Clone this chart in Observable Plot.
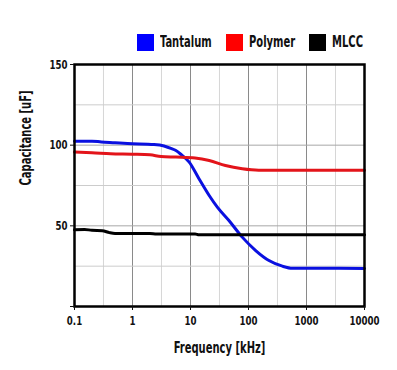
<!DOCTYPE html>
<html>
<head>
<meta charset="utf-8">
<script src="https://cdn.jsdelivr.net/npm/d3@7"></script>
<script src="https://cdn.jsdelivr.net/npm/@observablehq/plot@0.6"></script>
<style>
  html, body { margin: 0; padding: 0; background: #fff; }
  #wrap { position: relative; width: 397px; height: 370px; font-family: 'DejaVu Sans Condensed', 'DejaVu Sans', sans-serif; font-weight: bold; }
  #legend { position: absolute; left: 137px; top: 33px; display: flex; align-items: center; font-size: 15px; color: #111; white-space: nowrap; }
  #legend .item { display: flex; align-items: center; margin-right: 14px; }
  #legend .sw { width: 17px; height: 17px; margin-right: 6px; }
  #legend .lab { display: inline-block; transform-origin: left center; }
  #chart { position: absolute; left: 0; top: 0; }
</style>
</head>
<body>
<div id="wrap">
  <div id="chart"></div>
  <div id="legend"></div>
</div>
<script>
// ---- data ----
const seriesNames = ["Tantalum", "Polymer", "MLCC"];
const seriesColors = ["#0a10e0", "#e3141a", "#000000"];
const swatchColors = ["#0000ff", "#ff0000", "#000000"];

const tantalumFreq = [0.1, 0.2, 0.29, 0.5, 0.82, 2.35, 3.5, 4.6, 5.6, 7, 9.5, 14, 21, 29, 46, 78, 133, 225, 384, 570, 1000, 10000];
const tantalumCap  = [102.4, 102.5, 102, 101.5, 101, 100.4, 99.5, 98, 96.7, 94, 89.5, 79.2, 68.8, 61.6, 53.3, 43, 34.7, 28.5, 25, 23.7, 23.7, 23.6];

const polymerFreq = [0.1, 0.2, 0.42, 1, 2, 3.1, 5.6, 12, 21, 40, 78, 150, 10000];
const polymerCap  = [95.7, 95.3, 94.7, 94.4, 94, 93, 92.6, 92, 90.5, 87.4, 85.4, 84.5, 84.4];

const mlccFreq = [0.1, 0.15, 0.2, 0.3, 0.4, 0.5, 2, 2.6, 12, 14, 10000];
const mlccCap  = [47.5, 47.8, 47.2, 47, 45.8, 45.3, 45.3, 45, 45, 44.4, 44.4];

const xTicks = [0.1, 1, 10, 100, 1000, 10000];
const xTickLabels = ["0.1", "1", "10", "100", "1000", "10000"];
const xHalfGrid = [0.316, 3.16, 31.6, 316, 3162];
const yTicks = [0, 50, 100, 150];
const yTickLabels = ["", "50", "100", "150"];
const yMajorGrid = [50, 100];
const yMinorGrid = [25, 75, 125];
const xLabel = "Frequency [kHz]";
const yLabel = "Capacitance [uF]";

const narrow = 0.74; // horizontal condensing of the bold font

// ---- build table ----
const rows = [];
[[tantalumFreq, tantalumCap], [polymerFreq, polymerCap], [mlccFreq, mlccCap]].forEach(([f, c], i) => {
  f.forEach((fv, j) => rows.push({series: seriesNames[i], freq: fv, cap: c[j]}));
});

const chart = Plot.plot({
  width: 397,
  height: 370,
  marginTop: 64,
  marginBottom: 64,
  marginLeft: 74,
  marginRight: 33,
  style: {fontFamily: "'DejaVu Sans Condensed', 'DejaVu Sans', sans-serif", fontWeight: "bold", fontSize: "13px", color: "#111", background: "#fff"},
  x: {type: "log", domain: [0.1, 10000]},
  y: {domain: [0, 150]},
  color: {domain: seriesNames, range: seriesColors},
  marks: [
    Plot.ruleX(xHalfGrid, {stroke: "#d6d6d6", strokeWidth: 1}),
    Plot.ruleX(xTicks, {stroke: "#8a8a8a", strokeWidth: 1}),
    Plot.ruleY(yMinorGrid, {stroke: "#cccccc", strokeWidth: 1}),
    Plot.ruleY(yMajorGrid, {stroke: "#a8a8a8", strokeWidth: 1}),
    Plot.line(rows, {x: "freq", y: "cap", z: "series", stroke: "series", strokeWidth: 3, curve: "monotone-x"}),
    Plot.frame({stroke: "#000", strokeWidth: 2.5}),
    Plot.axisX(xTicks, {tickFormat: (d) => xTickLabels[xTicks.indexOf(d)], tickSize: 4, tickPadding: 5, label: null, fontSize: 13}),
    Plot.axisY(yTicks, {tickFormat: (d) => yTickLabels[yTicks.indexOf(d)], tickSize: 4, tickPadding: 3, label: null, fontSize: 13}),
    Plot.text([xLabel], {frameAnchor: "bottom", dy: 46, fontSize: 15, fill: "#111"}),
    Plot.text([yLabel], {frameAnchor: "left", dx: -48, rotate: -90, fontSize: 15, fill: "#111"})
  ]
});
document.getElementById("chart").appendChild(chart);

// condense every SVG text horizontally about its own anchor point
chart.querySelectorAll("text").forEach((t) => {
  if (!t.textContent) return;
  const bb = t.getBBox();
  const anchor = getComputedStyle(t).textAnchor;
  const ax = anchor === "middle" ? bb.x + bb.width / 2 : anchor === "end" ? bb.x + bb.width : bb.x;
  const prev = t.getAttribute("transform") || "";
  t.setAttribute("transform", `${prev} translate(${ax},0) scale(${narrow},1) translate(${-ax},0)`.trim());
});

const legend = document.getElementById("legend");
seriesNames.forEach((name, i) => {
  const item = document.createElement("div");
  item.className = "item";
  const sw = document.createElement("div");
  sw.className = "sw";
  sw.style.background = swatchColors[i];
  const t = document.createElement("span");
  t.className = "lab";
  t.textContent = name;
  item.appendChild(sw);
  item.appendChild(t);
  legend.appendChild(item);
  const w = t.getBoundingClientRect().width;
  t.style.transform = `scaleX(${narrow})`;
  t.style.marginRight = `${-w * (1 - narrow)}px`;
});
</script>
</body>
</html>
